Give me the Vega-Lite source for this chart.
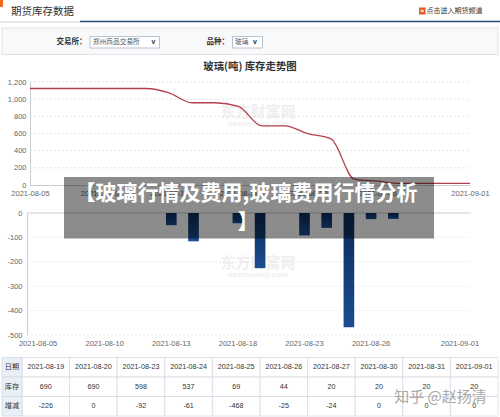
{
  "$schema": "https://vega.github.io/schema/vega-lite/v6.json",
  "width": 500,
  "height": 417,
  "padding": 0,
  "autosize": {"type": "none"},
  "background": "#ffffff",
  "config": {
    "view": {"stroke": null},
    "font": "Noto Sans CJK SC",
    "axis": {"labelFont": "Liberation Sans", "labelColor": "#666666", "labelFontSize": 7.5, "ticks": false, "grid": false, "domainColor": "#cccccc", "domainWidth": 1}
  },
  "datasets": {
    "inv": [
      {"date": "2021-08-05", "stock": 1124, "change": 0},
      {"date": "2021-08-06", "stock": 1124, "change": 0},
      {"date": "2021-08-09", "stock": 1124, "change": 0},
      {"date": "2021-08-10", "stock": 1124, "change": 0},
      {"date": "2021-08-11", "stock": 1124, "change": 0},
      {"date": "2021-08-12", "stock": 1124, "change": 0},
      {"date": "2021-08-13", "stock": 1074, "change": -50},
      {"date": "2021-08-16", "stock": 958, "change": -116},
      {"date": "2021-08-17", "stock": 958, "change": 0},
      {"date": "2021-08-18", "stock": 916, "change": -42},
      {"date": "2021-08-19", "stock": 690, "change": -226},
      {"date": "2021-08-20", "stock": 690, "change": 0},
      {"date": "2021-08-23", "stock": 598, "change": -92},
      {"date": "2021-08-24", "stock": 537, "change": -61},
      {"date": "2021-08-25", "stock": 69, "change": -468},
      {"date": "2021-08-26", "stock": 44, "change": -25},
      {"date": "2021-08-27", "stock": 20, "change": -24},
      {"date": "2021-08-30", "stock": 20, "change": 0},
      {"date": "2021-08-31", "stock": 20, "change": 0},
      {"date": "2021-09-01", "stock": 20, "change": 0}
    ]
  },
  "resolve": {"scale": {"x": "independent", "y": "independent"}},
  "layer": [
    {
      "data": {"values": [{}]},
      "layer": [
        {"mark": {"type": "rect", "fill": "#f26b1d"},
         "encoding": {"x": {"datum": 0, "type": "quantitative", "scale": {"domain": [0, 500], "range": [0, 500], "nice": false, "zero": false}, "axis": null}, "x2": {"datum": 3},
                      "y": {"datum": 0, "type": "quantitative", "scale": {"domain": [0, 417], "range": [0, 417], "nice": false, "zero": false}, "axis": null}, "y2": {"datum": 7}}},
        {"mark": {"type": "text", "text": "期货库存数据", "align": "left", "baseline": "middle", "fontSize": 10.5, "fill": "#333333"},
         "encoding": {"x": {"datum": 11, "type": "quantitative", "scale": {"domain": [0, 500], "range": [0, 500], "nice": false, "zero": false}, "axis": null},
                      "y": {"datum": 12, "type": "quantitative", "scale": {"domain": [0, 417], "range": [0, 417], "nice": false, "zero": false}, "axis": null}}},
        {"mark": {"type": "rule", "stroke": "#cfcfcf", "strokeWidth": 1},
         "encoding": {"x": {"datum": 0, "type": "quantitative", "scale": {"domain": [0, 500], "range": [0, 500], "nice": false, "zero": false}, "axis": null}, "x2": {"datum": 80},
                      "y": {"datum": 22, "type": "quantitative", "scale": {"domain": [0, 417], "range": [0, 417], "nice": false, "zero": false}, "axis": null}}},
        {"mark": {"type": "rule", "stroke": "#2c4b79", "strokeWidth": 1.5},
         "encoding": {"x": {"datum": 80, "type": "quantitative", "scale": {"domain": [0, 500], "range": [0, 500], "nice": false, "zero": false}, "axis": null}, "x2": {"datum": 500},
                      "y": {"datum": 21.5, "type": "quantitative", "scale": {"domain": [0, 417], "range": [0, 417], "nice": false, "zero": false}, "axis": null}}},
        {"mark": {"type": "rect", "fill": "#e8541e"},
         "encoding": {"x": {"datum": 419, "type": "quantitative", "scale": {"domain": [0, 500], "range": [0, 500], "nice": false, "zero": false}, "axis": null}, "x2": {"datum": 425.5},
                      "y": {"datum": 7.5, "type": "quantitative", "scale": {"domain": [0, 417], "range": [0, 417], "nice": false, "zero": false}, "axis": null}, "y2": {"datum": 14.5}}},
        {"mark": {"type": "text", "text": "»", "align": "center", "baseline": "middle", "fontSize": 7, "fontWeight": "bold", "fill": "#ffffff", "font": "DejaVu Sans"},
         "encoding": {"x": {"datum": 422.3, "type": "quantitative", "scale": {"domain": [0, 500], "range": [0, 500], "nice": false, "zero": false}, "axis": null},
                      "y": {"datum": 10.8, "type": "quantitative", "scale": {"domain": [0, 417], "range": [0, 417], "nice": false, "zero": false}, "axis": null}}},
        {"mark": {"type": "text", "text": "点击进入期货频道", "align": "left", "baseline": "middle", "fontSize": 7, "fill": "#333333"},
         "encoding": {"x": {"datum": 426.5, "type": "quantitative", "scale": {"domain": [0, 500], "range": [0, 500], "nice": false, "zero": false}, "axis": null},
                      "y": {"datum": 11, "type": "quantitative", "scale": {"domain": [0, 417], "range": [0, 417], "nice": false, "zero": false}, "axis": null}}},
        {"mark": {"type": "rect", "fill": "#f8f9fa", "stroke": "#e2e2e2", "strokeWidth": 1},
         "encoding": {"x": {"datum": 2, "type": "quantitative", "scale": {"domain": [0, 500], "range": [0, 500], "nice": false, "zero": false}, "axis": null}, "x2": {"datum": 498},
                      "y": {"datum": 28, "type": "quantitative", "scale": {"domain": [0, 417], "range": [0, 417], "nice": false, "zero": false}, "axis": null}, "y2": {"datum": 54.5}}},
        {"mark": {"type": "text", "text": "交易所：", "align": "left", "baseline": "middle", "fontSize": 7.5, "fontWeight": "bold", "fill": "#333333"},
         "encoding": {"x": {"datum": 56.5, "type": "quantitative", "scale": {"domain": [0, 500], "range": [0, 500], "nice": false, "zero": false}, "axis": null},
                      "y": {"datum": 42.2, "type": "quantitative", "scale": {"domain": [0, 417], "range": [0, 417], "nice": false, "zero": false}, "axis": null}}},
        {"mark": {"type": "rect", "fill": "#ffffff", "stroke": "#a9b4c2", "strokeWidth": 0.8},
         "encoding": {"x": {"datum": 90, "type": "quantitative", "scale": {"domain": [0, 500], "range": [0, 500], "nice": false, "zero": false}, "axis": null}, "x2": {"datum": 159.5},
                      "y": {"datum": 36.5, "type": "quantitative", "scale": {"domain": [0, 417], "range": [0, 417], "nice": false, "zero": false}, "axis": null}, "y2": {"datum": 48}}},
        {"mark": {"type": "text", "text": "郑州商品交易所", "align": "left", "baseline": "middle", "fontSize": 6.7, "fill": "#4d5a6c"},
         "encoding": {"x": {"datum": 93, "type": "quantitative", "scale": {"domain": [0, 500], "range": [0, 500], "nice": false, "zero": false}, "axis": null},
                      "y": {"datum": 42.2, "type": "quantitative", "scale": {"domain": [0, 417], "range": [0, 417], "nice": false, "zero": false}, "axis": null}}},
        {"mark": {"type": "text", "text": "v", "align": "left", "baseline": "middle", "fontSize": 7, "fontWeight": "bold", "fill": "#333333", "font": "Liberation Sans"},
         "encoding": {"x": {"datum": 151.5, "type": "quantitative", "scale": {"domain": [0, 500], "range": [0, 500], "nice": false, "zero": false}, "axis": null},
                      "y": {"datum": 42, "type": "quantitative", "scale": {"domain": [0, 417], "range": [0, 417], "nice": false, "zero": false}, "axis": null}}},
        {"mark": {"type": "text", "text": "品种：", "align": "left", "baseline": "middle", "fontSize": 7.5, "fontWeight": "bold", "fill": "#333333"},
         "encoding": {"x": {"datum": 206.5, "type": "quantitative", "scale": {"domain": [0, 500], "range": [0, 500], "nice": false, "zero": false}, "axis": null},
                      "y": {"datum": 42.2, "type": "quantitative", "scale": {"domain": [0, 417], "range": [0, 417], "nice": false, "zero": false}, "axis": null}}},
        {"mark": {"type": "rect", "fill": "#ffffff", "stroke": "#a9b4c2", "strokeWidth": 0.8},
         "encoding": {"x": {"datum": 232.5, "type": "quantitative", "scale": {"domain": [0, 500], "range": [0, 500], "nice": false, "zero": false}, "axis": null}, "x2": {"datum": 262.5},
                      "y": {"datum": 36.5, "type": "quantitative", "scale": {"domain": [0, 417], "range": [0, 417], "nice": false, "zero": false}, "axis": null}, "y2": {"datum": 48}}},
        {"mark": {"type": "text", "text": "玻璃", "align": "left", "baseline": "middle", "fontSize": 6.7, "fill": "#4d5a6c"},
         "encoding": {"x": {"datum": 235, "type": "quantitative", "scale": {"domain": [0, 500], "range": [0, 500], "nice": false, "zero": false}, "axis": null},
                      "y": {"datum": 42.2, "type": "quantitative", "scale": {"domain": [0, 417], "range": [0, 417], "nice": false, "zero": false}, "axis": null}}},
        {"mark": {"type": "text", "text": "v", "align": "left", "baseline": "middle", "fontSize": 7, "fontWeight": "bold", "fill": "#333333", "font": "Liberation Sans"},
         "encoding": {"x": {"datum": 253, "type": "quantitative", "scale": {"domain": [0, 500], "range": [0, 500], "nice": false, "zero": false}, "axis": null},
                      "y": {"datum": 42, "type": "quantitative", "scale": {"domain": [0, 417], "range": [0, 417], "nice": false, "zero": false}, "axis": null}}},
        {"mark": {"type": "text", "text": "玻璃(吨) 库存走势图", "align": "center", "baseline": "middle", "fontSize": 10.4, "fontWeight": "bold", "fill": "#333333"},
         "encoding": {"x": {"datum": 250, "type": "quantitative", "scale": {"domain": [0, 500], "range": [0, 500], "nice": false, "zero": false}, "axis": null},
                      "y": {"datum": 66.7, "type": "quantitative", "scale": {"domain": [0, 417], "range": [0, 417], "nice": false, "zero": false}, "axis": null}}},
        {"mark": {"type": "text", "text": "东方财富网", "align": "center", "baseline": "middle", "fontSize": 15, "fontWeight": "bold", "fill": "#efefef"},
         "encoding": {"x": {"datum": 258, "type": "quantitative", "scale": {"domain": [0, 500], "range": [0, 500], "nice": false, "zero": false}, "axis": null},
                      "y": {"datum": 112, "type": "quantitative", "scale": {"domain": [0, 417], "range": [0, 417], "nice": false, "zero": false}, "axis": null}}},
        {"mark": {"type": "text", "text": "eastmoney.com", "align": "center", "baseline": "middle", "fontSize": 8, "fontWeight": "bold", "fill": "#f0f0f0", "font": "Liberation Sans"},
         "encoding": {"x": {"datum": 258, "type": "quantitative", "scale": {"domain": [0, 500], "range": [0, 500], "nice": false, "zero": false}, "axis": null},
                      "y": {"datum": 124, "type": "quantitative", "scale": {"domain": [0, 417], "range": [0, 417], "nice": false, "zero": false}, "axis": null}}},
        {"mark": {"type": "text", "text": "东方财富网", "align": "center", "baseline": "middle", "fontSize": 15, "fontWeight": "bold", "fill": "#efefef"},
         "encoding": {"x": {"datum": 258, "type": "quantitative", "scale": {"domain": [0, 500], "range": [0, 500], "nice": false, "zero": false}, "axis": null},
                      "y": {"datum": 263, "type": "quantitative", "scale": {"domain": [0, 417], "range": [0, 417], "nice": false, "zero": false}, "axis": null}}},
        {"mark": {"type": "text", "text": "eastmoney.com", "align": "center", "baseline": "middle", "fontSize": 8, "fontWeight": "bold", "fill": "#f0f0f0", "font": "Liberation Sans"},
         "encoding": {"x": {"datum": 258, "type": "quantitative", "scale": {"domain": [0, 500], "range": [0, 500], "nice": false, "zero": false}, "axis": null},
                      "y": {"datum": 275, "type": "quantitative", "scale": {"domain": [0, 417], "range": [0, 417], "nice": false, "zero": false}, "axis": null}}}
      ]
    },
    {
      "layer": [
        {"data": {"values": [{"g": -100}, {"g": -200}, {"g": -300}, {"g": -400}, {"g": -500}]},
         "mark": {"type": "rule", "stroke": "#e4e4e4", "strokeWidth": 0.8, "strokeDash": [2, 2]},
         "encoding": {"x": {"datum": 27, "type": "quantitative", "scale": {"domain": [0, 500], "range": [0, 500], "nice": false, "zero": false}, "axis": null}, "x2": {"datum": 471},
                      "y": {"field": "g", "type": "quantitative", "scale": {"domain": [-500, 0], "range": [335, 213], "nice": false}, "axis": null}}},
        {"data": {"values": [{}]},
         "mark": {"type": "rule", "stroke": "#cccccc", "strokeWidth": 1},
         "encoding": {"x": {"datum": 27, "type": "quantitative", "scale": {"domain": [0, 500], "range": [0, 500], "nice": false, "zero": false}, "axis": null}, "x2": {"datum": 471},
                      "y": {"datum": 0, "type": "quantitative", "scale": {"domain": [-500, 0], "range": [335, 213], "nice": false}, "axis": null}}}
      ]
    },
    {
      "data": {"values": [{"g": 200}, {"g": 400}, {"g": 600}, {"g": 800}, {"g": 1000}, {"g": 1200}]},
      "mark": {"type": "rule", "stroke": "#dddddd", "strokeWidth": 0.8, "strokeDash": [2, 2]},
      "encoding": {"x": {"datum": 30, "type": "quantitative", "scale": {"domain": [0, 500], "range": [0, 500], "nice": false, "zero": false}, "axis": null}, "x2": {"datum": 470},
                   "y": {"field": "g", "type": "quantitative", "scale": {"domain": [0, 1200], "range": [185, 82], "nice": false}, "axis": null}}
    },
    {
      "data": {"name": "inv"},
      "mark": {"type": "line", "interpolate": "monotone", "color": "#b43f4c", "strokeWidth": 1.3},
      "encoding": {
        "x": {"field": "date", "type": "ordinal",
              "scale": {"type": "point", "domain": ["2021-08-05","2021-08-06","2021-08-09","2021-08-10","2021-08-11","2021-08-12","2021-08-13","2021-08-16","2021-08-17","2021-08-18","2021-08-19","2021-08-20","2021-08-23","2021-08-24","2021-08-25","2021-08-26","2021-08-27","2021-08-30","2021-08-31","2021-09-01"], "range": [30, 470], "padding": 0},
              "axis": {"orient": "bottom", "offset": -232, "values": ["2021-08-05","2021-08-10","2021-08-13","2021-08-18","2021-08-23","2021-08-26","2021-09-01"], "labelAngle": 0, "labelAlign": "center", "labelBaseline": "top", "labelPadding": 4, "labelOverlap": false, "labelFlush": false, "title": null}},
        "y": {"field": "stock", "type": "quantitative",
              "scale": {"domain": [0, 1200], "range": [185, 82], "nice": false},
              "axis": {"orient": "left", "offset": -30, "values": [0, 200, 400, 600, 800, 1000, 1200], "labelExpr": "format(datum.value, ',')", "labelPadding": 4, "title": null}}
      }
    },
    {
      "data": {"name": "inv"},
      "mark": {"type": "bar", "width": {"band": 0.48},
               "color": {"gradient": "linear", "x1": 0, "y1": 0, "x2": 0, "y2": 1, "stops": [{"offset": 0, "color": "#0b2a57"}, {"offset": 1, "color": "#1b4d91"}]}},
      "encoding": {
        "x": {"field": "date", "type": "ordinal",
              "scale": {"type": "band", "domain": ["2021-08-05","2021-08-06","2021-08-09","2021-08-10","2021-08-11","2021-08-12","2021-08-13","2021-08-16","2021-08-17","2021-08-18","2021-08-19","2021-08-20","2021-08-23","2021-08-24","2021-08-25","2021-08-26","2021-08-27","2021-08-30","2021-08-31","2021-09-01"], "range": [27, 471], "paddingInner": 0, "paddingOuter": 0},
              "axis": {"orient": "bottom", "offset": -82, "values": ["2021-08-05","2021-08-10","2021-08-13","2021-08-18","2021-08-23","2021-08-26","2021-09-01"], "labelAngle": 0, "labelAlign": "center", "labelPadding": 4, "labelOverlap": false, "domain": false, "title": null}},
        "y": {"field": "change", "type": "quantitative",
              "scale": {"domain": [-500, 0], "range": [335, 213], "nice": false},
              "axis": {"orient": "left", "offset": -27, "values": [-500, -400, -300, -200, -100, 0], "labelExpr": "datum.value", "labelPadding": 5, "title": null}}
      }
    },
    {
      "data": {"name": "inv"},
      "transform": [{"filter": "datum.date >= '2021-08-19'"}],
      "encoding": {
        "x": {"field": "date", "type": "ordinal",
              "scale": {"type": "band", "domain": ["2021-08-19","2021-08-20","2021-08-23","2021-08-24","2021-08-25","2021-08-26","2021-08-27","2021-08-30","2021-08-31","2021-09-01"], "range": [22, 498], "paddingInner": 0, "paddingOuter": 0},
              "axis": null}
      },
      "layer": [
        {"mark": {"type": "rect", "fill": "#ffffff", "stroke": "#d5dbe3", "strokeWidth": 0.8},
         "encoding": {"y": {"datum": "日期", "type": "nominal", "scale": {"type": "band", "domain": ["日期", "库存", "增减"], "range": [357.5, 416], "paddingInner": 0, "paddingOuter": 0}, "axis": null}}},
        {"mark": {"type": "rect", "fill": "#ffffff", "stroke": "#d5dbe3", "strokeWidth": 0.8},
         "encoding": {"y": {"datum": "库存", "type": "nominal"}}},
        {"mark": {"type": "rect", "fill": "#ffffff", "stroke": "#d5dbe3", "strokeWidth": 0.8},
         "encoding": {"y": {"datum": "增减", "type": "nominal"}}},
        {"mark": {"type": "text", "fontSize": 7.2, "fill": "#333333", "font": "Liberation Sans", "baseline": "middle"},
         "encoding": {"y": {"datum": "日期", "type": "nominal"}, "text": {"field": "date", "type": "nominal"}}},
        {"mark": {"type": "text", "fontSize": 7.2, "fill": "#333333", "font": "Liberation Sans", "baseline": "middle"},
         "encoding": {"y": {"datum": "库存", "type": "nominal"}, "text": {"field": "stock", "type": "nominal"}}},
        {"mark": {"type": "text", "fontSize": 7.2, "fill": "#333333", "font": "Liberation Sans", "baseline": "middle"},
         "encoding": {"y": {"datum": "增减", "type": "nominal"}, "text": {"field": "change", "type": "nominal"}}}
      ]
    },
    {
      "data": {"values": [{"row": "日期"}, {"row": "库存"}, {"row": "增减"}]},
      "encoding": {
        "y": {"field": "row", "type": "nominal", "scale": {"type": "band", "domain": ["日期", "库存", "增减"], "range": [357.5, 416], "paddingInner": 0, "paddingOuter": 0}, "axis": null}
      },
      "layer": [
        {"mark": {"type": "rect", "fill": "#e9eff6", "stroke": "#d5dbe3", "strokeWidth": 0.8},
         "encoding": {"x": {"datum": 2, "type": "quantitative", "scale": {"domain": [0, 500], "range": [0, 500], "nice": false, "zero": false}, "axis": null}, "x2": {"datum": 22}}},
        {"mark": {"type": "text", "fontSize": 7.2, "fill": "#333333", "baseline": "middle"},
         "encoding": {"x": {"datum": 12, "type": "quantitative", "scale": {"domain": [0, 500], "range": [0, 500], "nice": false, "zero": false}, "axis": null}, "text": {"field": "row", "type": "nominal"}}}
      ]
    },
    {
      "data": {"values": [{}]},
      "layer": [
        {"mark": {"type": "rect", "fill": "#000000", "opacity": 0.45},
         "encoding": {"x": {"datum": 64, "type": "quantitative", "scale": {"domain": [0, 500], "range": [0, 500], "nice": false, "zero": false}, "axis": null}, "x2": {"datum": 434},
                      "y": {"datum": 177, "type": "quantitative", "scale": {"domain": [0, 417], "range": [0, 417], "nice": false, "zero": false}, "axis": null}, "y2": {"datum": 238.5}}},
        {"mark": {"type": "text", "text": "【玻璃行情及费用,玻璃费用行情分析", "align": "center", "baseline": "middle", "fontSize": 21, "fontWeight": "bold", "fill": "#ffffff"},
         "encoding": {"x": {"datum": 246, "type": "quantitative", "scale": {"domain": [0, 500], "range": [0, 500], "nice": false, "zero": false}, "axis": null},
                      "y": {"datum": 194, "type": "quantitative", "scale": {"domain": [0, 417], "range": [0, 417], "nice": false, "zero": false}, "axis": null}}},
        {"mark": {"type": "text", "text": "】", "align": "center", "baseline": "middle", "fontSize": 21, "fontWeight": "bold", "fill": "#ffffff"},
         "encoding": {"x": {"datum": 248, "type": "quantitative", "scale": {"domain": [0, 500], "range": [0, 500], "nice": false, "zero": false}, "axis": null},
                      "y": {"datum": 223, "type": "quantitative", "scale": {"domain": [0, 417], "range": [0, 417], "nice": false, "zero": false}, "axis": null}}},
        {"mark": {"type": "text", "text": "知乎 @赵扬清", "align": "center", "baseline": "middle", "fontSize": 15, "fill": "#8c8c8c", "opacity": 0.75},
         "encoding": {"x": {"datum": 440.5, "type": "quantitative", "scale": {"domain": [0, 500], "range": [0, 500], "nice": false, "zero": false}, "axis": null},
                      "y": {"datum": 397, "type": "quantitative", "scale": {"domain": [0, 417], "range": [0, 417], "nice": false, "zero": false}, "axis": null}}}
      ]
    }
  ]
}
